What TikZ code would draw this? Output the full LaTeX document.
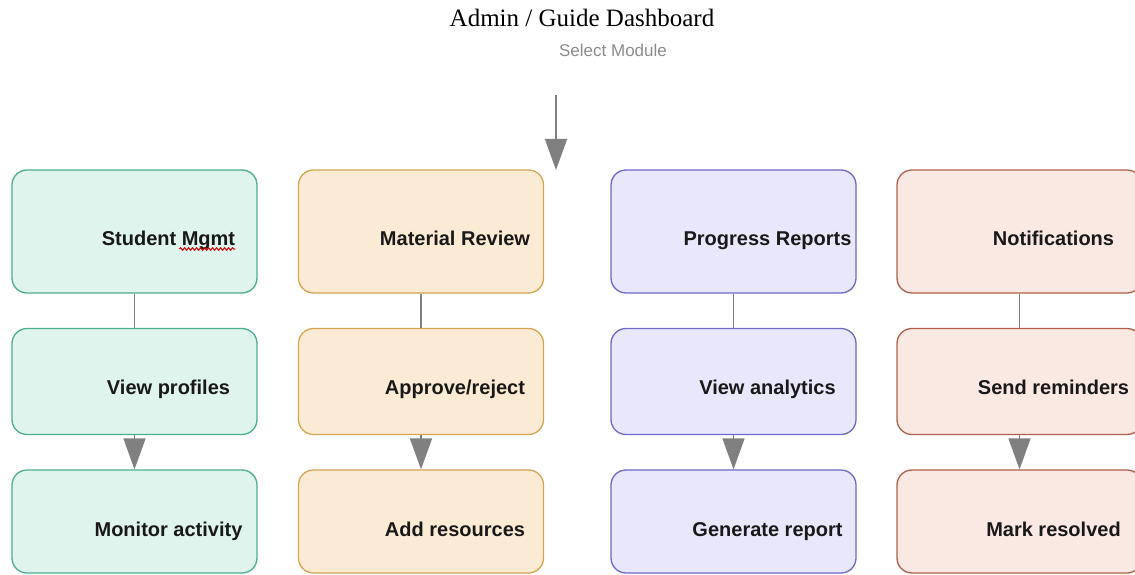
\documentclass[tikz,border=0pt]{standalone}
\usepackage{fontspec}
\setmainfont{Liberation Serif}
\setsansfont{Liberation Sans}
\usetikzlibrary{arrows.meta,decorations.pathmorphing}

\definecolor{stline}{HTML}{4DAE8E}
\definecolor{stfill}{HTML}{DEF4EC}
\definecolor{mrline}{HTML}{D5A452}
\definecolor{mrfill}{HTML}{FCEBD4}
\definecolor{prline}{HTML}{6E68C6}
\definecolor{prfill}{HTML}{E9E7FB}
\definecolor{ntline}{HTML}{B0604A}
\definecolor{ntfill}{HTML}{FAE8E3}
\definecolor{linkgray}{HTML}{808080}

\begin{document}
\begin{tikzpicture}[x=1pt,y=-1pt,
	module/.style={draw,rounded corners=15pt,line width=1.3pt,minimum width=245pt,inner sep=0pt},
	modtext/.style={anchor=base,inner sep=0pt,text=black!90,font=\sffamily\bfseries\fontsize{20}{24}\selectfont},
	link/.style={draw=linkgray,line width=1.5pt},
	flow/.style={link,-{Triangle[width=22pt,length=31pt]}}]
	% page size
	\useasboundingbox (0,0) rectangle (1135,575);
	% heading
	\node[anchor=base,inner sep=0pt,font=\fontsize{25}{30}\selectfont] (title) at (582,27) {Admin / Guide Dashboard};
	\node[anchor=base,inner sep=0pt,text=gray!90,font=\sffamily\fontsize{17}{20}\selectfont] (select) at (613,57) {Select Module};
	% entry arrow
	\coordinate (entry) at (556,95);
	\coordinate (entryend) at (556,170);
	\draw[flow] (entry) -- (entryend);
	% the four module columns
	\foreach \m/\cx/\ln/\fl/\ta/\tb/\tc in {
		st/134.5/stline/stfill/{Student Mgmt}/{View profiles}/{Monitor activity},
		mr/421/mrline/mrfill/{Material Review}/{Approve/reject}/{Add resources},
		pr/733.5/prline/prfill/{Progress Reports}/{View analytics}/{Generate report},
		nt/1019.5/ntline/ntfill/{Notifications}/{Send reminders}/{Mark resolved}} {
		\node[module,draw=\ln,fill=\fl,minimum height=123pt] (\m1) at (\cx,231.5) {};
		\node[module,draw=\ln,fill=\fl,minimum height=106pt] (\m2) at (\cx,381.5) {};
		\node[module,draw=\ln,fill=\fl,minimum height=103pt] (\m3) at (\cx,521.5) {};
		\node[modtext] (\m1t) at ([shift={(34,13.5)}]\m1.center) {\ta};
		\node[modtext] (\m2t) at ([shift={(34,13)}]\m2.center) {\tb};
		\node[modtext] (\m3t) at ([shift={(34,15)}]\m3.center) {\tc};
		\draw[link] (\m1) -- (\m2);
		\draw[flow] (\m2) -- (\m3);
	}
	% spell-check mark under Mgmt
	\draw[red!85!black,line width=1pt,decorate,decoration={snake,amplitude=1.3pt,segment length=4pt}]
		([shift={(-56,4)}]st1t.base east) -- ([shift={(0,4)}]st1t.base east);
\end{tikzpicture}
\end{document}
